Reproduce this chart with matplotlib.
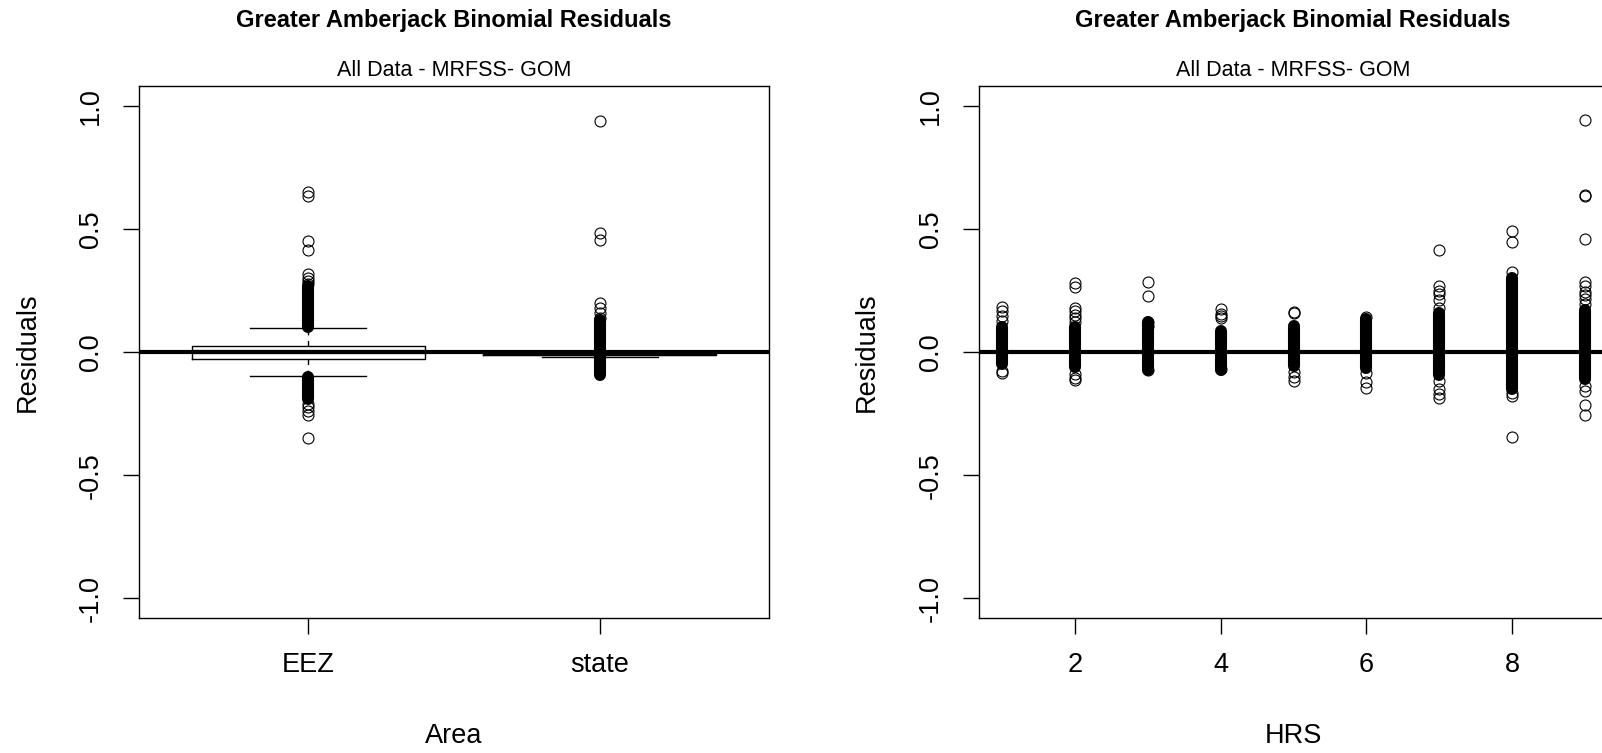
import numpy as np
import matplotlib.pyplot as plt

plt.rcParams['font.family'] = ['Liberation Sans', 'DejaVu Sans']

# ---- values ----
title = 'Greater Amberjack Binomial Residuals'
subtitle = 'All Data - MRFSS- GOM'

# left panel: boxplot of residuals by Area
area_names = ['EEZ', 'state']
box_q1 = [-0.027, -0.014]
box_med = [0.0, -0.009]
box_q3 = [0.025, -0.004]
box_lo = [-0.097, -0.020]
box_hi = [0.098, 0.004]
eez_out = [0.648, 0.634, 0.449, 0.414, 0.318, 0.300, 0.290, 0.276,
           -0.210, -0.225, -0.240, -0.255, -0.348]
state_out = [0.936, 0.485, 0.455, 0.199, 0.180, 0.160, 0.140]
# solid runs of overlapping outliers (pos, from, to)
area_run_pos = [1, 1, 2]
area_run_lo = [0.10, -0.19, -0.095]
area_run_hi = [0.27, -0.10, 0.13]

# right panel: residuals against HRS
hrs = [1, 2, 3, 4, 5, 6, 7, 8, 9]
hrs_run_lo = [-0.050, -0.060, -0.075, -0.075, -0.055, -0.065, -0.095, -0.150, -0.110]
hrs_run_hi = [0.100, 0.100, 0.120, 0.085, 0.105, 0.135, 0.160, 0.300, 0.170]
pt_hrs = ([1] * 6 + [2] * 10 + [3] * 5 + [4] * 5 + [5] * 5 + [6] * 4
          + [7] * 10 + [8] * 6 + [9] * 14)
pt_res = [0.183, 0.167, 0.148, 0.126, -0.077, -0.087,
          0.282, 0.262, 0.180, 0.167, 0.150, 0.140, 0.120, -0.090, -0.105, -0.114,
          0.286, 0.228, 0.120, 0.106, -0.073,
          0.176, 0.154, 0.146, 0.140, -0.070,
          0.163, 0.159, -0.081, -0.100, -0.116,
          0.144, -0.084, -0.123, -0.148,
          0.413, 0.269, 0.248, 0.234, 0.212, 0.180, -0.118, -0.151, -0.172, -0.188,
          0.492, 0.448, 0.323, -0.165, -0.180, -0.347,
          0.940, 0.639, 0.632, 0.457, 0.283, 0.268, 0.245, 0.230, 0.215, 0.195,
          -0.137, -0.158, -0.214, -0.256]

W, H = 1602, 753
fig = plt.figure(figsize=(W / 100, H / 100), dpi=100)

def px_axes(x0, x1, y0, y1):
    return fig.add_axes([x0 / W, 1 - y1 / H, (x1 - x0) / W, (y1 - y0) / H])

ax1 = px_axes(139, 769, 86, 618)
ax2 = px_axes(979, 1608, 86, 618)

ms = 7.9
mew = 0.8
run_lw = 8.7
fs = 19.5

stats = []
for i, outs in enumerate([eez_out, state_out]):
    stats.append(dict(med=box_med[i], q1=box_q1[i], q3=box_q3[i],
                      whislo=box_lo[i], whishi=box_hi[i], fliers=outs))
ax1.bxp(stats, positions=[1, 2], widths=0.8, capwidths=0.4,
        boxprops=dict(color='black', lw=1.0),
        medianprops=dict(color='black', lw=3.0),
        whiskerprops=dict(color='black', lw=1.0, linestyle=(0, (4, 4))),
        capprops=dict(color='black', lw=1.0),
        flierprops=dict(marker='o', mfc='none', mec='black', ms=ms, mew=mew))
ax1.vlines(area_run_pos, area_run_lo, area_run_hi, color='black',
           lw=run_lw, capstyle='round')
ax1.set_xlim(0.42, 2.58)
ax1.set_xticks([1, 2])
ax1.set_xticklabels(area_names)

ax2.plot(pt_hrs, pt_res, 'o', mfc='none', mec='black', ms=ms, mew=mew)
ax2.vlines(hrs, hrs_run_lo, hrs_run_hi, color='black', lw=run_lw, capstyle='round')
ax2.set_xlim(0.68, 9.32)
ax2.set_xticks([2, 4, 6, 8])

for ax, xlab, cx in [(ax1, 'Area', 454), (ax2, 'HRS', 1293)]:
    ax.axhline(0, color='black', lw=3.0, zorder=5)
    ax.set_ylim(-1.08, 1.08)
    ax.set_yticks([-1.0, -0.5, 0.0, 0.5, 1.0])
    ax.set_yticklabels(['-1.0', '-0.5', '0.0', '0.5', '1.0'], rotation=90, va='center')
    ax.tick_params(axis='both', direction='out', length=11.5, width=1.0, labelsize=fs)
    ax.tick_params(axis='x', pad=13)
    ax.tick_params(axis='y', pad=14)
    for s in ax.spines.values():
        s.set_linewidth(1.0)
    fig.text(cx / W, 1 - 21 / H, title, ha='center', va='center',
             fontsize=17, fontweight='bold')
    fig.text(cx / W, 1 - 70 / H, subtitle, ha='center', va='center', fontsize=15.5)
    fig.text(cx / W, 1 - 736 / H, xlab, ha='center', va='center', fontsize=fs)
    fig.text((cx - 454 + 28) / W, 1 - 352 / H, 'Residuals', ha='center', va='center',
             rotation=90, fontsize=fs)

fig.savefig('out.png', dpi=100)
